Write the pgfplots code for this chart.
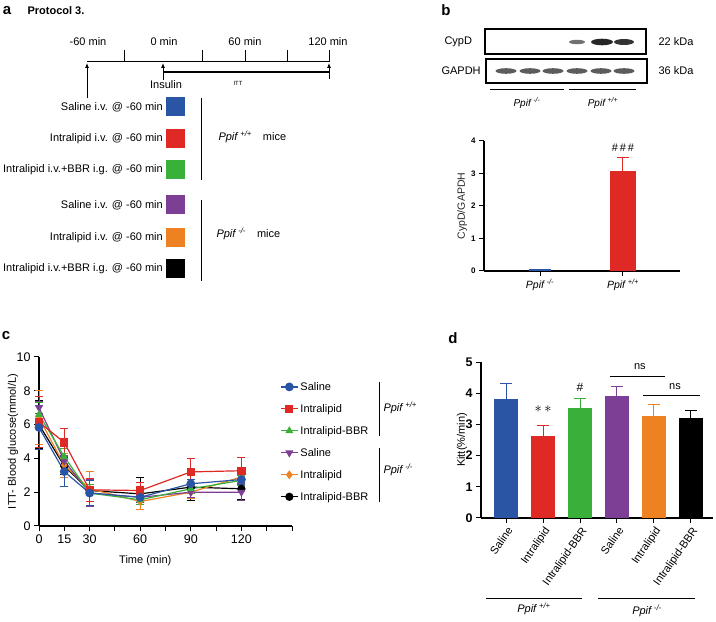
\documentclass[border=0pt]{standalone}
\usepackage{fontspec}
\setmainfont{Liberation Sans}
\usepackage{pgfplots}
\pgfplotsset{compat=1.18}
\usetikzlibrary{arrows.meta}

\definecolor{cblue}{RGB}{42,85,165}
\definecolor{cred}{RGB}{222,41,37}
\definecolor{cgreen}{RGB}{57,176,58}
\definecolor{cpurple}{RGB}{125,63,150}
\definecolor{corange}{RGB}{238,130,34}

\newcommand{\wt}{\textit{Ppif}\,\textsuperscript{\textit{+/+}}}
\newcommand{\ko}{\textit{Ppif}\,\textsuperscript{\textit{-/-}}}
\newcommand{\fs}[1]{\fontsize{#1}{#1}\selectfont}

\pgfplotsset{
  gp/.style={scale only axis, axis lines=left, axis line style={-, line width=1.1pt},
    tick align=outside, tick style={line width=1pt, black}, major tick length=5pt,
    /pgf/number format/assume math mode=true, enlargelimits=false, clip=false},
  eb/.style={/pgfplots/error bars/y dir=both, /pgfplots/error bars/y explicit,
    /pgfplots/error bars/error bar style={line width=0.9pt,#1},
    /pgfplots/error bars/error mark options={rotate=90, mark size=4pt, line width=0.9pt,#1}},
  ebp/.style={/pgfplots/error bars/y dir=plus, /pgfplots/error bars/y explicit,
    /pgfplots/error bars/error bar style={line width=1pt,#1},
    /pgfplots/error bars/error mark options={rotate=90, mark size=6pt, line width=1pt,#1}},
  gbar/.style={ybar, bar shift=0pt, draw=none, fill=#1},
}

\begin{document}
\begin{tikzpicture}[x=1pt,y=1pt]
\useasboundingbox (0,0) rectangle (716,622);

% ---- panel a
\node[font=\fs{15}\bfseries] at (7,611) {a};
\node[font=\fs{11}\bfseries, anchor=west] at (24,611) {Protocol 3.};
\draw[line width=1pt] (87,560) -- (329,560);
\foreach \x in {124,202,245,287,329} \draw[line width=1pt] (\x,560) -- (\x,572);
\node[font=\fs{11}] at (88,580) {-60 min};
\node[font=\fs{11}] at (164,580) {0 min};
\node[font=\fs{11}] at (245,580) {60 min};
\node[font=\fs{11}] at (328,580) {120 min};
\draw[-{Latex[length=5pt,width=4pt]}, line width=0.8pt] (87,524) -- (87,559);
\draw[-{Latex[length=5pt,width=4pt]}, line width=0.8pt] (163,542) -- (163,559);
\draw[-{Latex[length=5pt,width=4pt]}, line width=0.8pt] (329,543) -- (329,559);
\draw[line width=1.5pt] (163,550) -- (329,550);
\node[font=\fs{11}] at (166,537) {Insulin};
\node[font=\fs{6}] at (238,539) {ITT};
\foreach \y/\c/\t in {515/cblue/{Saline i.v. @ -60 min},
                      483/cred/{Intralipid i.v. @ -60 min},
                      452/cgreen/{Intralipid i.v.+BBR i.g. @ -60 min},
                      417/cpurple/{Saline i.v. @ -60 min},
                      384/corange/{Intralipid i.v. @ -60 min},
                      353/black/{Intralipid i.v.+BBR i.g. @ -60 min}} {
  \fill[\c] (166,\y-9.5) rectangle (185,\y+9.5);
  \node[font=\fs{11}, anchor=east, inner sep=1pt] at (164,\y) {\t};
}
\draw[line width=1pt] (201,524) -- (201,442);
\draw[line width=1pt] (201,422) -- (201,341);
\node[font=\fs{11}, anchor=west] at (215,485) {\wt\quad mice};
\node[font=\fs{11}, anchor=west] at (213,388) {\ko\quad mice};

% ---- panel b blot
\node[font=\fs{15}\bfseries] at (446,612) {b};
\draw[line width=1.1pt] (485,568) rectangle (646,593);
\draw[line width=1.1pt] (486,539) rectangle (647,563);
\foreach \x in {506,530,553,577,601,624}
  \fill[black!75, opacity=0.85] (\x,551) ellipse (10.5pt and 2.8pt);
\fill[black!70, opacity=0.8] (577,580) ellipse (8pt and 2.2pt);
\fill[black!85] (602,580) ellipse (11pt and 3.3pt);
\fill[black!80] (624,580) ellipse (10pt and 3pt);
\node[font=\fs{11}, anchor=west] at (441,580) {CypD};
\node[font=\fs{11}, anchor=west] at (438,551) {GAPDH};
\node[font=\fs{11}, anchor=west] at (655,580) {22 kDa};
\node[font=\fs{11}, anchor=west] at (655,551) {36 kDa};
\draw[line width=0.8pt] (490,533) -- (564,533);
\draw[line width=0.8pt] (569,533) -- (636,533);
\node[font=\fs{10}] at (527,519) {\ko};
\node[font=\fs{10}] at (603,519) {\wt};

% ---- panel b bars
\begin{axis}[gp, at={(484pt,351pt)}, anchor=south west, width=196pt, height=130pt,
  xmin=-0.675, xmax=1.687, ymin=0, ymax=4, ytick={0,...,4}, xtick={0,1},
  xticklabels={\ko,\wt},
  yticklabel style={font=\fs{8}\bfseries},
  xticklabel style={font=\fs{10.5}},
  ylabel={CypD/GAPDH},
  ylabel style={font=\fs{10.5}, black!85, at={(axis description cs:-0.112,0.5)}, anchor=center}]
\addplot[gbar=cblue, bar width=22pt] coordinates {(0,0.06)};
\addplot[gbar=cred, bar width=26pt, ebp=cred] coordinates {(1,3.07) +- (0,0.42)};
\node[font=\fs{11}, anchor=south] at (axis cs:1,3.58) {\#\,\#\,\#};
\end{axis}

% ---- panel c
\node[font=\fs{15}\bfseries] at (6,286) {c};
\begin{axis}[gp, at={(39pt,96pt)}, anchor=south west, width=253pt, height=169pt,
  xmin=0, xmax=150, ymin=0, ymax=10,
  xtick={0,15,...,150}, xticklabels={0,15,30,,60,,90,,120,,},
  ytick={0,2,...,10},
  ticklabel style={font=\fs{12.5}},
  xlabel={Time (min)}, xlabel style={font=\fs{11}, at={(ticklabel cs:0.42)}, yshift=-5pt},
  ylabel={ITT- Blood glucose(mmol/L)},
  ylabel style={font=\fs{11}, at={(axis description cs:-0.103,0.5)}, anchor=center},
  every axis plot/.append style={line width=1.2pt},
  reverse legend,
  legend style={at={(0.9526,0.864)}, anchor=north west, draw=none, fill=none,
    font=\fs{11}, row sep=8.5pt, inner sep=0pt},
  legend cell align=left]
\addplot[color=black, mark=*, mark size=3.5pt, eb=black] table[x=t,y=m,y error=e] {
t m e
0 6.0 1.4
15 3.55 0.5
30 2.1 0.65
60 1.9 0.95
90 2.3 0.8
120 2.2 0.6
};
\addplot[color=corange, mark=diamond*, mark size=3.5pt, eb=corange] table[x=t,y=m,y error=e] {
t m e
0 6.4 1.6
15 3.6 0.7
30 2.2 1.0
60 1.45 0.5
90 2.0 0.35
120 2.9 0.3
};
\addplot[color=cpurple, mark=triangle*, mark size=3.5pt, mark options={rotate=180}, eb=cpurple] table[x=t,y=m,y error=e] {
t m e
0 7.0 0.35
15 3.85 0.35
30 1.95 0.8
60 1.7 0.3
90 2.0 0.3
120 2.0 0.5
};
\addplot[color=cgreen, mark=triangle*, mark size=3.5pt, eb=cgreen] table[x=t,y=m,y error=e] {
t m e
0 6.6 0.7
15 4.1 0.5
30 1.95 0.5
60 1.55 0.3
90 2.2 0.3
120 2.7 0.3
};
\addplot[color=cred, mark=square*, mark size=3.5pt, eb=cred] table[x=t,y=m,y error=e] {
t m e
0 6.15 1.5
15 4.94 0.85
30 2.14 0.7
60 2.1 0.45
90 3.2 0.77
120 3.27 0.8
};
\addplot[color=cblue, mark=*, mark size=3.8pt, eb=cblue] table[x=t,y=m,y error=e] {
t m e
0 5.83 1.3
15 3.22 0.9
30 1.95 0.75
60 1.7 0.3
90 2.5 0.25
120 2.75 0.3
};
\legend{Intralipid-BBR,Intralipid,Saline,Intralipid-BBR,Intralipid,Saline}
\end{axis}
\draw[line width=1pt] (379,240) -- (379,186);
\draw[line width=1pt] (379,174) -- (379,120);
\node[font=\fs{11}, anchor=west] at (380,214) {\wt};
\node[font=\fs{11}, anchor=west] at (380,152) {\ko};

% ---- panel d
\node[font=\fs{15}\bfseries] at (453,284) {d};
\begin{axis}[gp, at={(481pt,104pt)}, anchor=south west, width=232pt, height=156pt,
  xmin=-0.68, xmax=5.6, ymin=0, ymax=5, ytick={0,...,5}, xtick={0,...,5},
  xticklabels={Saline,Intralipid,Intralipid-BBR,Saline,Intralipid,Intralipid-BBR},
  yticklabel style={font=\fs{12.5}\bfseries},
  xticklabel style={font=\fs{11}, rotate=55, anchor=north east, inner sep=2pt},
  ylabel={Kitt(\%/min)},
  ylabel style={font=\fs{11}, at={(axis description cs:-0.082,0.5)}, anchor=center}]
\addplot[gbar=cblue, bar width=24pt, ebp=cblue] coordinates {(0,3.81) +- (0,0.50)};
\addplot[gbar=cred, bar width=24pt, ebp=cred] coordinates {(1,2.63) +- (0,0.32)};
\addplot[gbar=cgreen, bar width=24pt, ebp=cgreen] coordinates {(2,3.51) +- (0,0.32)};
\addplot[gbar=cpurple, bar width=24pt, ebp=cpurple] coordinates {(3,3.92) +- (0,0.31)};
\addplot[gbar=corange, bar width=24pt, ebp=corange] coordinates {(4,3.27) +- (0,0.38)};
\addplot[gbar=black, bar width=24pt, ebp=black] coordinates {(5,3.21) +- (0,0.22)};
\node[font=\fs{14}] at (axis cs:1,3.5) {$\ast\,\ast$};
\node[font=\fs{12}] at (axis cs:2,4.2) {\#};
\draw[line width=0.9pt] (axis cs:2.81,4.55) -- (axis cs:4.3,4.55);
\node[font=\fs{11}] at (axis cs:3.62,4.84) {ns};
\draw[line width=0.9pt] (axis cs:3.7,3.94) -- (axis cs:5.24,3.94);
\node[font=\fs{11}] at (axis cs:4.57,4.22) {ns};
\end{axis}
\draw[line width=0.8pt] (486,24) -- (582,24);
\draw[line width=0.8pt] (598,24) -- (695,24);
\node[font=\fs{11}] at (534,13) {\wt};
\node[font=\fs{11}] at (647,11) {\ko};
\end{tikzpicture}
\end{document}
